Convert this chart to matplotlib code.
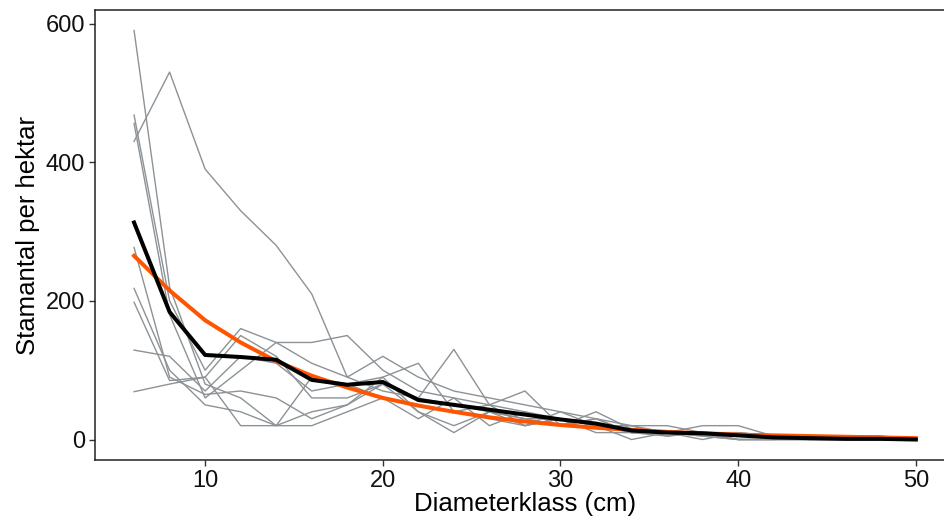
import matplotlib.pyplot as plt

plt.rcParams["font.family"] = ["Liberation Sans", "DejaVu Sans"]

# Diameter classes (cm)
diam = [6, 8, 10, 12, 14, 16, 18, 20, 22, 24, 26, 28, 30, 32, 34, 36, 38, 40, 42, 44, 46, 48, 50]

# Stems per hectare for each plot
plots = [
    [430, 530, 390, 330, 280, 210, 90, 70, 60, 50, 40, 30, 20, 30, 10, 10, 5, 0, 0, 0, 0, 0, 0],
    [590, 220, 80, 60, 20, 20, 40, 60, 50, 40, 30, 20, 30, 10, 10, 5, 10, 0, 0, 0, 0, 0, 0],
    [468, 200, 100, 160, 140, 140, 150, 100, 70, 60, 50, 40, 20, 30, 20, 20, 10, 10, 5, 5, 0, 0, 0],
    [456, 180, 60, 100, 140, 110, 90, 120, 90, 70, 60, 50, 40, 30, 10, 10, 10, 0, 0, 0, 0, 0, 0],
    [277, 90, 65, 70, 60, 30, 50, 90, 110, 40, 50, 70, 20, 40, 15, 10, 20, 20, 5, 0, 5, 5, 0],
    [218, 100, 50, 40, 20, 40, 50, 80, 60, 130, 50, 20, 40, 20, 20, 10, 0, 10, 5, 5, 0, 0, 0],
    [198, 85, 90, 20, 20, 90, 80, 90, 40, 20, 40, 30, 30, 20, 20, 5, 10, 5, 5, 5, 5, 5, 0],
    [129, 120, 70, 120, 110, 70, 80, 60, 30, 60, 20, 40, 30, 20, 10, 10, 10, 5, 5, 0, 0, 0, 0],
    [69, 80, 90, 150, 120, 60, 60, 80, 40, 10, 40, 20, 30, 20, 0, 10, 5, 0, 0, 5, 0, 0, 0],
]

# Mean over plots
mean_stems = [313, 184, 122, 119, 115, 86, 79, 83, 57, 50, 43, 36, 29, 23, 13, 10, 9, 6, 3, 2, 1, 1, 0]

# Fitted curve
fitted = [265, 215, 172, 140, 113, 92, 75, 60, 49, 40, 32, 26, 21, 17, 14, 11, 9, 7, 6, 5, 4, 3, 2]

fig = plt.figure(figsize=(9.45, 5.22), dpi=100)
ax = fig.add_axes([0.1005, 0.1188, 0.910, 0.862])

for p in plots:
    ax.plot(diam, p, color="#8c9296", linewidth=1.0, zorder=2)
ax.plot(diam, fitted, color="#ff5500", linewidth=2.9, zorder=3)
ax.plot(diam, mean_stems, color="black", linewidth=2.9, zorder=4)

ax.set_xlim(3.8, 52.2)
ax.set_ylim(-29.5, 619.5)
ax.set_xticks([10, 20, 30, 40, 50])
ax.set_yticks([0, 200, 400, 600])

ax.spines["right"].set_visible(False)
for s in ["left", "bottom", "top"]:
    ax.spines[s].set_linewidth(1.1)
    ax.spines[s].set_color("#222222")

ax.tick_params(axis="both", labelsize=17, length=4, width=1.0, color="#333333",
               labelcolor="#111111", pad=3)
ax.set_xlabel("Diameterklass (cm)", fontsize=18.5, labelpad=0)
ax.set_ylabel("Stamantal per hektar", fontsize=18.5, labelpad=4)

fig.savefig("out.png", dpi=100)
